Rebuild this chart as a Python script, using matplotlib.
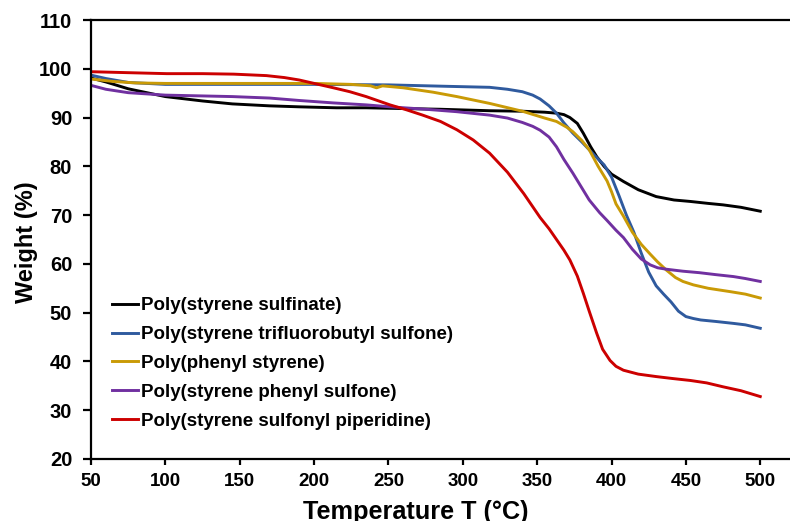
import matplotlib
matplotlib.use("Agg")
import matplotlib.pyplot as plt

plt.rcParams['font.family'] = ['Liberation Sans', 'DejaVu Sans']
plt.rcParams['font.weight'] = 'bold'

# TGA data
t_sulfinate = [50, 60, 75, 100, 125, 145, 170, 190, 215, 235, 251, 285, 318, 340, 355, 363, 368,
               372, 377, 381, 386, 390, 395, 400, 408, 418, 430, 442, 453, 465, 475, 487, 500]
w_sulfinate = [98.1, 97.3, 95.9, 94.3, 93.4, 92.8, 92.4, 92.2, 92.0, 92.0, 91.9, 91.7, 91.4, 91.3, 91.1,
               90.9, 90.6, 90.0, 88.8, 86.8, 84.0, 82.0, 80.0, 78.4, 76.9, 75.2, 73.8, 73.1, 72.8, 72.4,
               72.1, 71.6, 70.8]

t_tfb = [50, 60, 75, 100, 150, 200, 250, 290, 318, 330, 340, 347, 352, 358, 363, 368, 374, 380, 385,
         390, 395, 400, 405, 410, 415, 420, 425, 430, 435, 440, 445, 450, 455, 460, 470, 482, 490, 500]
w_tfb = [98.7, 98.0, 97.2, 96.8, 96.8, 96.8, 96.7, 96.4, 96.2, 95.8, 95.3, 94.6, 93.8, 92.4, 90.9, 88.9,
         86.8, 85.0, 83.4, 81.8, 80.3, 77.8, 74.0, 70.0, 66.5, 62.2, 58.3, 55.5, 53.8, 52.2, 50.3, 49.2,
         48.8, 48.5, 48.2, 47.8, 47.5, 46.8]

t_phenyl = [50, 65, 80, 100, 150, 200, 225, 238, 242, 246, 260, 280, 296, 318, 340, 355, 363, 370, 374,
            380, 385, 391, 397, 400, 403, 408, 414, 420, 426, 431, 437, 443, 448, 455, 465, 480, 490, 500]
w_phenyl = [97.9, 97.4, 97.1, 97.0, 97.0, 97.0, 96.8, 96.5, 96.1, 96.5, 96.1, 95.2, 94.3, 92.9, 91.3,
            89.9, 89.2, 88.0, 87.1, 85.3, 83.4, 80.0, 77.0, 74.8, 72.3, 69.8, 66.5, 64.0, 62.0, 60.4,
            58.7, 57.2, 56.4, 55.7, 55.0, 54.3, 53.8, 53.0]

t_phsulf = [50, 60, 75, 100, 145, 170, 190, 213, 235, 251, 275, 296, 318, 330, 340, 347, 352, 358, 363,
            368, 374, 380, 385, 392, 397, 403, 408, 414, 420, 426, 431, 437, 448, 459, 470, 482, 490, 500]
w_phsulf = [96.6, 95.8, 95.1, 94.6, 94.3, 94.0, 93.5, 93.0, 92.6, 92.2, 91.7, 91.2, 90.5, 89.9, 89.0,
            88.2, 87.4, 86.0, 84.0, 81.4, 78.6, 75.6, 73.1, 70.5, 68.9, 66.9, 65.4, 63.0, 61.0, 59.8,
            59.2, 58.9, 58.5, 58.2, 57.8, 57.4, 57.0, 56.4]

t_piper = [50, 75, 101, 125, 146, 168, 180, 190, 200, 213, 224, 235, 251, 262, 273, 285, 296, 307, 318,
           330, 341, 352, 358, 363, 368, 372, 377, 381, 385, 390, 394, 399, 403, 408, 418, 430, 441, 453,
           464, 475, 487, 500]
w_piper = [99.4, 99.2, 99.0, 99.0, 98.9, 98.6, 98.2, 97.7, 97.0, 96.1, 95.3, 94.3, 92.6, 91.6, 90.5,
           89.2, 87.5, 85.4, 82.7, 78.8, 74.4, 69.5, 67.2, 65.0, 62.8, 60.8, 57.5, 54.0, 50.3, 45.8, 42.5,
           40.2, 39.0, 38.2, 37.4, 36.9, 36.5, 36.1, 35.6, 34.8, 34.0, 32.8]

series = [
    ("Poly(styrene sulfinate)", t_sulfinate, w_sulfinate, "#000000"),
    ("Poly(styrene trifluorobutyl sulfone)", t_tfb, w_tfb, "#2F5A9E"),
    ("Poly(phenyl styrene)", t_phenyl, w_phenyl, "#C99A06"),
    ("Poly(styrene phenyl sulfone)", t_phsulf, w_phsulf, "#7030A0"),
    ("Poly(styrene sulfonyl piperidine)", t_piper, w_piper, "#CC0000"),
]

fig = plt.figure(figsize=(7.9, 5.21), dpi=100)
ax = fig.add_axes([91 / 790, 1 - 459 / 521, 1 - 91 / 790, (459 - 20) / 521])

for label, t, w, c in series:
    ax.plot(t, w, color=c, lw=2.1, label=label)

ax.set_xlim(50, 520)
ax.set_ylim(20, 110)
ax.set_xticks(range(50, 501, 50))
ax.set_yticks(range(20, 111, 10))

for s in ['left', 'bottom', 'top']:
    ax.spines[s].set_linewidth(1.6)
ax.spines['right'].set_visible(False)

ax.tick_params(axis='x', direction='out', length=4, width=1.6, pad=6, labelsize=13.5)
ax.tick_params(axis='y', direction='out', length=5.5, width=1.6, pad=8, labelsize=14.5)
for lab in ax.get_xticklabels() + ax.get_yticklabels():
    lab.set_fontweight('bold')

ax.set_xlabel("Temperature T (°C)", fontsize=18.2, fontweight='bold')
ax.set_ylabel("Weight (%)", fontsize=17, fontweight='bold')
ax.xaxis.set_label_coords(0.465, -0.093)
ax.yaxis.set_label_coords(-0.076, 0.493)

ax.legend(loc='upper left', bbox_to_anchor=(112 / 790, 1 - 297 / 521),
          bbox_transform=fig.transFigure, frameon=False,
          handlelength=1.39, handletextpad=0.15, labelspacing=0.63,
          borderpad=0, borderaxespad=0, prop={'weight': 'bold', 'size': 13.5})

fig.savefig("out.png", dpi=100)
